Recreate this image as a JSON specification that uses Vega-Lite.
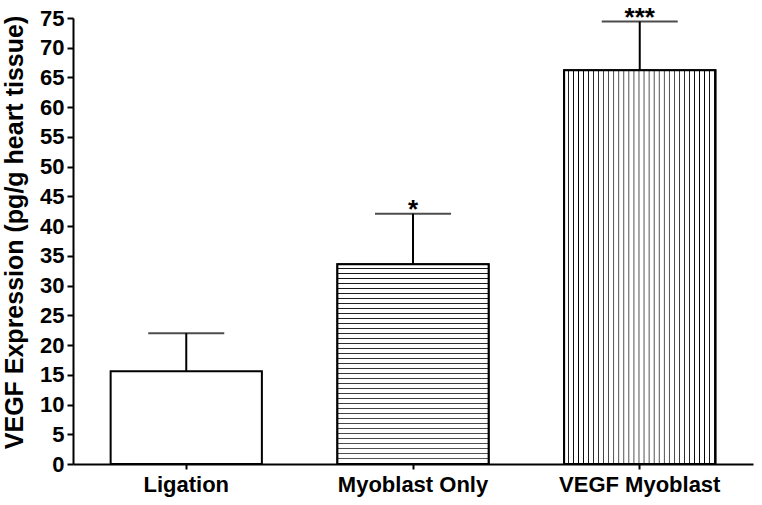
{
  "$schema": "https://vega.github.io/schema/vega-lite/v6.json",
  "width": 680,
  "height": 446,
  "autosize": {"type": "none"},
  "padding": {"left": 73, "top": 18, "right": 9, "bottom": 41},
  "background": "white",
  "config": {
    "view": {"stroke": null},
    "font": "Liberation Sans",
    "axis": {"grid": false, "domainColor": "black", "domainWidth": 2, "tickColor": "black", "tickWidth": 2, "labelColor": "black", "titleColor": "black", "labelFont": "Liberation Sans", "titleFont": "Liberation Sans", "labelFontWeight": "bold", "titleFontWeight": "bold", "labelOverlap": false}
  },
  "data": {
    "values": [
      {"group": "Ligation", "value": 15.6, "upper": 22.0, "sig": ""},
      {"group": "Myoblast Only", "value": 33.6, "upper": 42.1, "sig": "*"},
      {"group": "VEGF Myoblast", "value": 66.2, "upper": 74.4, "sig": "***"}
    ]
  },
  "encoding": {
    "x": {
      "field": "group", "type": "nominal",
      "scale": {"domain": ["Ligation", "Myoblast Only", "VEGF Myoblast"], "paddingInner": 0.333, "paddingOuter": 0.166},
      "axis": {"title": null, "labelAngle": 0, "labelFontSize": 22, "tickSize": 5, "labelPadding": 5}
    },
    "y": {
      "field": "value", "type": "quantitative",
      "scale": {"domain": [0, 75], "nice": false},
      "axis": {"title": "VEGF Expression (pg/g heart tissue)", "values": [0,5,10,15,20,25,30,35,40,45,50,55,60,65,70,75], "tickCount": 40, "labelOverlap": false, "labelFontSize": 22, "titleFontSize": 25, "tickSize": 6, "labelPadding": 3, "titlePadding": 12, "titleY": 214}
    }
  },
  "layer": [
    {
      "mark": {"type": "rule", "color": "black", "strokeWidth": 2},
      "encoding": {
        "y2": {"field": "upper"}
      }
    },
    {
      "mark": {"type": "tick", "color": "black", "size": 76, "thickness": 2, "orient": "horizontal"},
      "encoding": {
        "y": {"field": "upper", "type": "quantitative"}
      }
    },
    {
      "mark": {"type": "bar", "fill": "white", "stroke": "black", "strokeWidth": 2}
    },
    {
      "transform": [{"filter": "datum.group === 'Myoblast Only'"}],
      "mark": {"type": "bar", "stroke": "black", "strokeWidth": 2, "fill": {"gradient": "linear", "x1": 0, "y1": 0, "x2": 0, "y2": 1, "stops": [
        {"offset": 0, "color": "#fff"}, {"offset": 0.0175, "color": "#fff"}, {"offset": 0.02125, "color": "#000"},
        {"offset": 0.025, "color": "#fff"}, {"offset": 0.0425, "color": "#fff"}, {"offset": 0.04625, "color": "#000"},
        {"offset": 0.05, "color": "#fff"}, {"offset": 0.0675, "color": "#fff"}, {"offset": 0.07125, "color": "#000"},
        {"offset": 0.075, "color": "#fff"}, {"offset": 0.0925, "color": "#fff"}, {"offset": 0.09625, "color": "#000"},
        {"offset": 0.1, "color": "#fff"}, {"offset": 0.1175, "color": "#fff"}, {"offset": 0.12125, "color": "#000"},
        {"offset": 0.125, "color": "#fff"}, {"offset": 0.1425, "color": "#fff"}, {"offset": 0.14625, "color": "#000"},
        {"offset": 0.15, "color": "#fff"}, {"offset": 0.1675, "color": "#fff"}, {"offset": 0.17125, "color": "#000"},
        {"offset": 0.175, "color": "#fff"}, {"offset": 0.1925, "color": "#fff"}, {"offset": 0.19625, "color": "#000"},
        {"offset": 0.2, "color": "#fff"}, {"offset": 0.2175, "color": "#fff"}, {"offset": 0.22125, "color": "#000"},
        {"offset": 0.225, "color": "#fff"}, {"offset": 0.2425, "color": "#fff"}, {"offset": 0.24625, "color": "#000"},
        {"offset": 0.25, "color": "#fff"}, {"offset": 0.2675, "color": "#fff"}, {"offset": 0.27125, "color": "#000"},
        {"offset": 0.275, "color": "#fff"}, {"offset": 0.2925, "color": "#fff"}, {"offset": 0.29625, "color": "#000"},
        {"offset": 0.3, "color": "#fff"}, {"offset": 0.3175, "color": "#fff"}, {"offset": 0.32125, "color": "#000"},
        {"offset": 0.325, "color": "#fff"}, {"offset": 0.3425, "color": "#fff"}, {"offset": 0.34625, "color": "#000"},
        {"offset": 0.35, "color": "#fff"}, {"offset": 0.3675, "color": "#fff"}, {"offset": 0.37125, "color": "#000"},
        {"offset": 0.375, "color": "#fff"}, {"offset": 0.3925, "color": "#fff"}, {"offset": 0.39625, "color": "#000"},
        {"offset": 0.4, "color": "#fff"}, {"offset": 0.4175, "color": "#fff"}, {"offset": 0.42125, "color": "#000"},
        {"offset": 0.425, "color": "#fff"}, {"offset": 0.4425, "color": "#fff"}, {"offset": 0.44625, "color": "#000"},
        {"offset": 0.45, "color": "#fff"}, {"offset": 0.4675, "color": "#fff"}, {"offset": 0.47125, "color": "#000"},
        {"offset": 0.475, "color": "#fff"}, {"offset": 0.4925, "color": "#fff"}, {"offset": 0.49625, "color": "#000"},
        {"offset": 0.5, "color": "#fff"}, {"offset": 0.5175, "color": "#fff"}, {"offset": 0.52125, "color": "#000"},
        {"offset": 0.525, "color": "#fff"}, {"offset": 0.5425, "color": "#fff"}, {"offset": 0.54625, "color": "#000"},
        {"offset": 0.55, "color": "#fff"}, {"offset": 0.5675, "color": "#fff"}, {"offset": 0.57125, "color": "#000"},
        {"offset": 0.575, "color": "#fff"}, {"offset": 0.5925, "color": "#fff"}, {"offset": 0.59625, "color": "#000"},
        {"offset": 0.6, "color": "#fff"}, {"offset": 0.6175, "color": "#fff"}, {"offset": 0.62125, "color": "#000"},
        {"offset": 0.625, "color": "#fff"}, {"offset": 0.6425, "color": "#fff"}, {"offset": 0.64625, "color": "#000"},
        {"offset": 0.65, "color": "#fff"}, {"offset": 0.6675, "color": "#fff"}, {"offset": 0.67125, "color": "#000"},
        {"offset": 0.675, "color": "#fff"}, {"offset": 0.6925, "color": "#fff"}, {"offset": 0.69625, "color": "#000"},
        {"offset": 0.7, "color": "#fff"}, {"offset": 0.7175, "color": "#fff"}, {"offset": 0.72125, "color": "#000"},
        {"offset": 0.725, "color": "#fff"}, {"offset": 0.7425, "color": "#fff"}, {"offset": 0.74625, "color": "#000"},
        {"offset": 0.75, "color": "#fff"}, {"offset": 0.7675, "color": "#fff"}, {"offset": 0.77125, "color": "#000"},
        {"offset": 0.775, "color": "#fff"}, {"offset": 0.7925, "color": "#fff"}, {"offset": 0.79625, "color": "#000"},
        {"offset": 0.8, "color": "#fff"}, {"offset": 0.8175, "color": "#fff"}, {"offset": 0.82125, "color": "#000"},
        {"offset": 0.825, "color": "#fff"}, {"offset": 0.8425, "color": "#fff"}, {"offset": 0.84625, "color": "#000"},
        {"offset": 0.85, "color": "#fff"}, {"offset": 0.8675, "color": "#fff"}, {"offset": 0.87125, "color": "#000"},
        {"offset": 0.875, "color": "#fff"}, {"offset": 0.8925, "color": "#fff"}, {"offset": 0.89625, "color": "#000"},
        {"offset": 0.9, "color": "#fff"}, {"offset": 0.9175, "color": "#fff"}, {"offset": 0.92125, "color": "#000"},
        {"offset": 0.925, "color": "#fff"}, {"offset": 0.9425, "color": "#fff"}, {"offset": 0.94625, "color": "#000"},
        {"offset": 0.95, "color": "#fff"}, {"offset": 0.9675, "color": "#fff"}, {"offset": 0.97125, "color": "#000"},
        {"offset": 0.975, "color": "#fff"}, {"offset": 0.9925, "color": "#fff"}, {"offset": 0.99625, "color": "#000"},
        {"offset": 1, "color": "#fff"}
      ]}}
    },
    {
      "transform": [{"filter": "datum.group === 'VEGF Myoblast'"}],
      "mark": {"type": "bar", "stroke": "black", "strokeWidth": 2, "fill": {"gradient": "linear", "x1": 0, "y1": 0, "x2": 1, "y2": 0, "stops": [
        {"offset": 0, "color": "#fff"}, {"offset": 0.0233, "color": "#fff"}, {"offset": 0.0283, "color": "#000"},
        {"offset": 0.0333, "color": "#fff"}, {"offset": 0.0567, "color": "#fff"}, {"offset": 0.0617, "color": "#000"},
        {"offset": 0.0667, "color": "#fff"}, {"offset": 0.09, "color": "#fff"}, {"offset": 0.095, "color": "#000"},
        {"offset": 0.1, "color": "#fff"}, {"offset": 0.1233, "color": "#fff"}, {"offset": 0.1283, "color": "#000"},
        {"offset": 0.1333, "color": "#fff"}, {"offset": 0.1567, "color": "#fff"}, {"offset": 0.1617, "color": "#000"},
        {"offset": 0.1667, "color": "#fff"}, {"offset": 0.19, "color": "#fff"}, {"offset": 0.195, "color": "#000"},
        {"offset": 0.2, "color": "#fff"}, {"offset": 0.2233, "color": "#fff"}, {"offset": 0.2283, "color": "#000"},
        {"offset": 0.2333, "color": "#fff"}, {"offset": 0.2567, "color": "#fff"}, {"offset": 0.2617, "color": "#000"},
        {"offset": 0.2667, "color": "#fff"}, {"offset": 0.29, "color": "#fff"}, {"offset": 0.295, "color": "#000"},
        {"offset": 0.3, "color": "#fff"}, {"offset": 0.3233, "color": "#fff"}, {"offset": 0.3283, "color": "#000"},
        {"offset": 0.3333, "color": "#fff"}, {"offset": 0.3567, "color": "#fff"}, {"offset": 0.3617, "color": "#000"},
        {"offset": 0.3667, "color": "#fff"}, {"offset": 0.39, "color": "#fff"}, {"offset": 0.395, "color": "#000"},
        {"offset": 0.4, "color": "#fff"}, {"offset": 0.4233, "color": "#fff"}, {"offset": 0.4283, "color": "#000"},
        {"offset": 0.4333, "color": "#fff"}, {"offset": 0.4567, "color": "#fff"}, {"offset": 0.4617, "color": "#000"},
        {"offset": 0.4667, "color": "#fff"}, {"offset": 0.49, "color": "#fff"}, {"offset": 0.495, "color": "#000"},
        {"offset": 0.5, "color": "#fff"}, {"offset": 0.5233, "color": "#fff"}, {"offset": 0.5283, "color": "#000"},
        {"offset": 0.5333, "color": "#fff"}, {"offset": 0.5567, "color": "#fff"}, {"offset": 0.5617, "color": "#000"},
        {"offset": 0.5667, "color": "#fff"}, {"offset": 0.59, "color": "#fff"}, {"offset": 0.595, "color": "#000"},
        {"offset": 0.6, "color": "#fff"}, {"offset": 0.6233, "color": "#fff"}, {"offset": 0.6283, "color": "#000"},
        {"offset": 0.6333, "color": "#fff"}, {"offset": 0.6567, "color": "#fff"}, {"offset": 0.6617, "color": "#000"},
        {"offset": 0.6667, "color": "#fff"}, {"offset": 0.69, "color": "#fff"}, {"offset": 0.695, "color": "#000"},
        {"offset": 0.7, "color": "#fff"}, {"offset": 0.7233, "color": "#fff"}, {"offset": 0.7283, "color": "#000"},
        {"offset": 0.7333, "color": "#fff"}, {"offset": 0.7567, "color": "#fff"}, {"offset": 0.7617, "color": "#000"},
        {"offset": 0.7667, "color": "#fff"}, {"offset": 0.79, "color": "#fff"}, {"offset": 0.795, "color": "#000"},
        {"offset": 0.8, "color": "#fff"}, {"offset": 0.8233, "color": "#fff"}, {"offset": 0.8283, "color": "#000"},
        {"offset": 0.8333, "color": "#fff"}, {"offset": 0.8567, "color": "#fff"}, {"offset": 0.8617, "color": "#000"},
        {"offset": 0.8667, "color": "#fff"}, {"offset": 0.89, "color": "#fff"}, {"offset": 0.895, "color": "#000"},
        {"offset": 0.9, "color": "#fff"}, {"offset": 0.9233, "color": "#fff"}, {"offset": 0.9283, "color": "#000"},
        {"offset": 0.9333, "color": "#fff"}, {"offset": 0.9567, "color": "#fff"}, {"offset": 0.9617, "color": "#000"},
        {"offset": 0.9667, "color": "#fff"}, {"offset": 0.99, "color": "#fff"}, {"offset": 0.995, "color": "#000"},
        {"offset": 1, "color": "#fff"}
      ]}}
    },
    {
      "mark": {"type": "text", "color": "black", "fontSize": 26, "fontWeight": "bold", "baseline": "alphabetic", "dy": 4},
      "encoding": {
        "y": {"field": "upper", "type": "quantitative"},
        "text": {"field": "sig"}
      }
    }
  ]
}
